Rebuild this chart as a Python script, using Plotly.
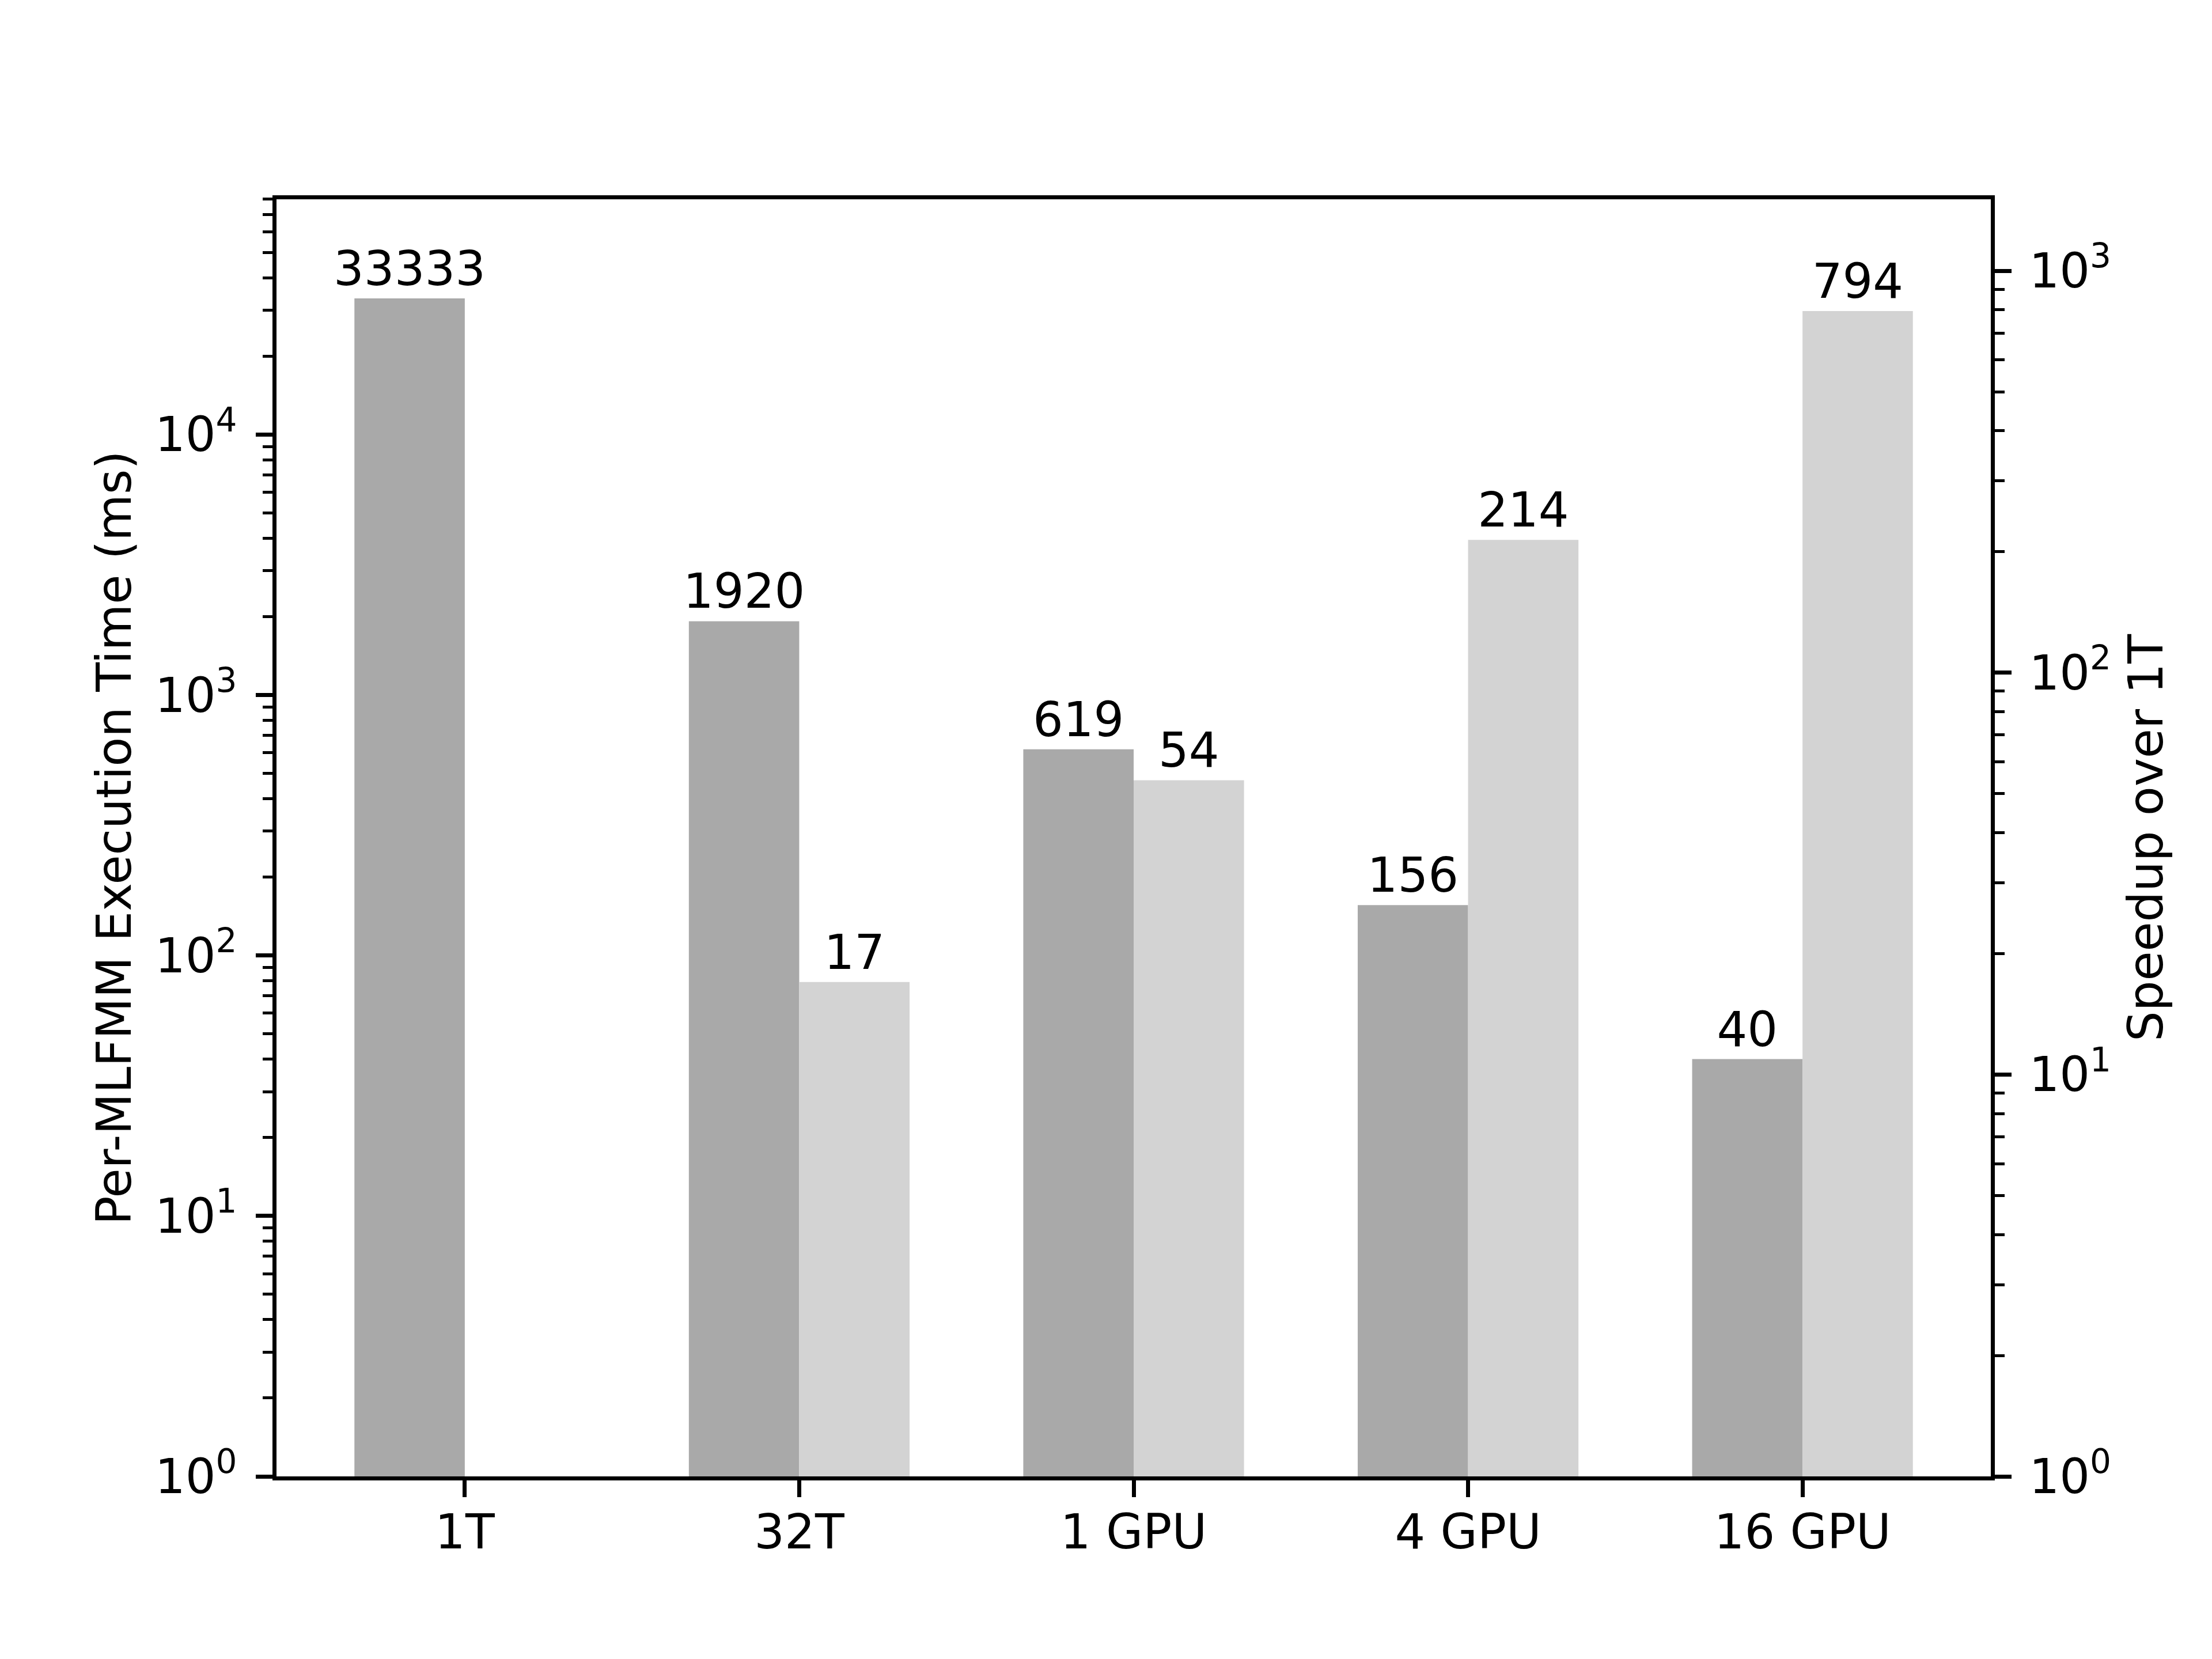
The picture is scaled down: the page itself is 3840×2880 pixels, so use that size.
import plotly.graph_objects as go

CATEGORIES = ["1T", "32T", "1 GPU", "4 GPU", "16 GPU"]
EXEC_TIME_MS = [33333, 1920, 619, 156, 40]
SPEEDUP = [None, 17, 54, 214, 794]

LEFT_TICKS = [1, 10, 100, 1000, 10000]
RIGHT_TICKS = [1, 10, 100, 1000]

DARK = "#a9a9a9"
LIGHT = "#d3d3d3"
FONT = "DejaVu Sans"
FS = 83          # 10pt at 600 dpi
BAR_WIDTH = 0.33
PAGE_PAD = 8     # default body margin of the html page


def sup_labels(vals):
    return ["10<sup>%d</sup>" % (len(str(v)) - 1) for v in vals]


def minor_vals(n_decades):
    return [m * 10 ** d for d in range(n_decades) for m in range(2, 10)]


x = list(range(len(CATEGORIES)))

fig = go.Figure()
fig.add_trace(go.Bar(
    x=x, y=EXEC_TIME_MS, width=BAR_WIDTH, offset=-BAR_WIDTH,
    marker=dict(color=DARK, line=dict(width=0)),
    text=[str(v) for v in EXEC_TIME_MS], textposition="outside",
    constraintext="none", cliponaxis=False,
    textfont=dict(family=FONT, size=FS, color="black"),
    yaxis="y", showlegend=False,
))
fig.add_trace(go.Bar(
    x=x, y=SPEEDUP, width=BAR_WIDTH, offset=0,
    marker=dict(color=LIGHT, line=dict(width=0)),
    text=[str(v) if v is not None else "" for v in SPEEDUP], textposition="outside",
    constraintext="none", cliponaxis=False,
    textfont=dict(family=FONT, size=FS, color="black"),
    yaxis="y2", showlegend=False,
))

tick_common = dict(
    ticks="outside", ticklen=29, tickwidth=6.7, tickcolor="black",
    showline=True, linecolor="black", linewidth=6.7,
    showgrid=False, zeroline=False,
    tickfont=dict(family=FONT, size=FS, color="black"),
)
minor_common = dict(ticks="outside", ticklen=17, tickwidth=5, tickcolor="black", showgrid=False)

fig.update_layout(
    width=3840, height=2880,
    margin=dict(l=480 - PAGE_PAD, r=384 + PAGE_PAD, t=346 - PAGE_PAD, b=317 + PAGE_PAD),
    paper_bgcolor="white", plot_bgcolor="white",
    barmode="overlay",
    font=dict(family=FONT, size=FS, color="black"),
    xaxis=dict(
        range=[-0.563, 4.563], tickmode="array", tickvals=x, ticktext=CATEGORIES,
        mirror=True, ticklabelstandoff=-10, **tick_common,
    ),
    yaxis=dict(
        type="log", range=[0, 4.903],
        tickmode="array", tickvals=LEFT_TICKS, ticktext=sup_labels(LEFT_TICKS),
        minor=dict(tickvals=minor_vals(5), **minor_common),
        ticklabelstandoff=16,
        title=dict(text="Per-MLFMM Execution Time (ms)", font=dict(family=FONT, size=FS), standoff=16),
        **tick_common,
    ),
    yaxis2=dict(
        type="log", range=[0, 3.178], overlaying="y", side="right",
        tickmode="array", tickvals=RIGHT_TICKS, ticktext=sup_labels(RIGHT_TICKS),
        minor=dict(tickvals=minor_vals(4), **minor_common),
        ticklabelstandoff=14,
        title=dict(text="Speedup over 1T", font=dict(family=FONT, size=FS), standoff=34),
        **tick_common,
    ),
)

fig.write_html("out.html")
